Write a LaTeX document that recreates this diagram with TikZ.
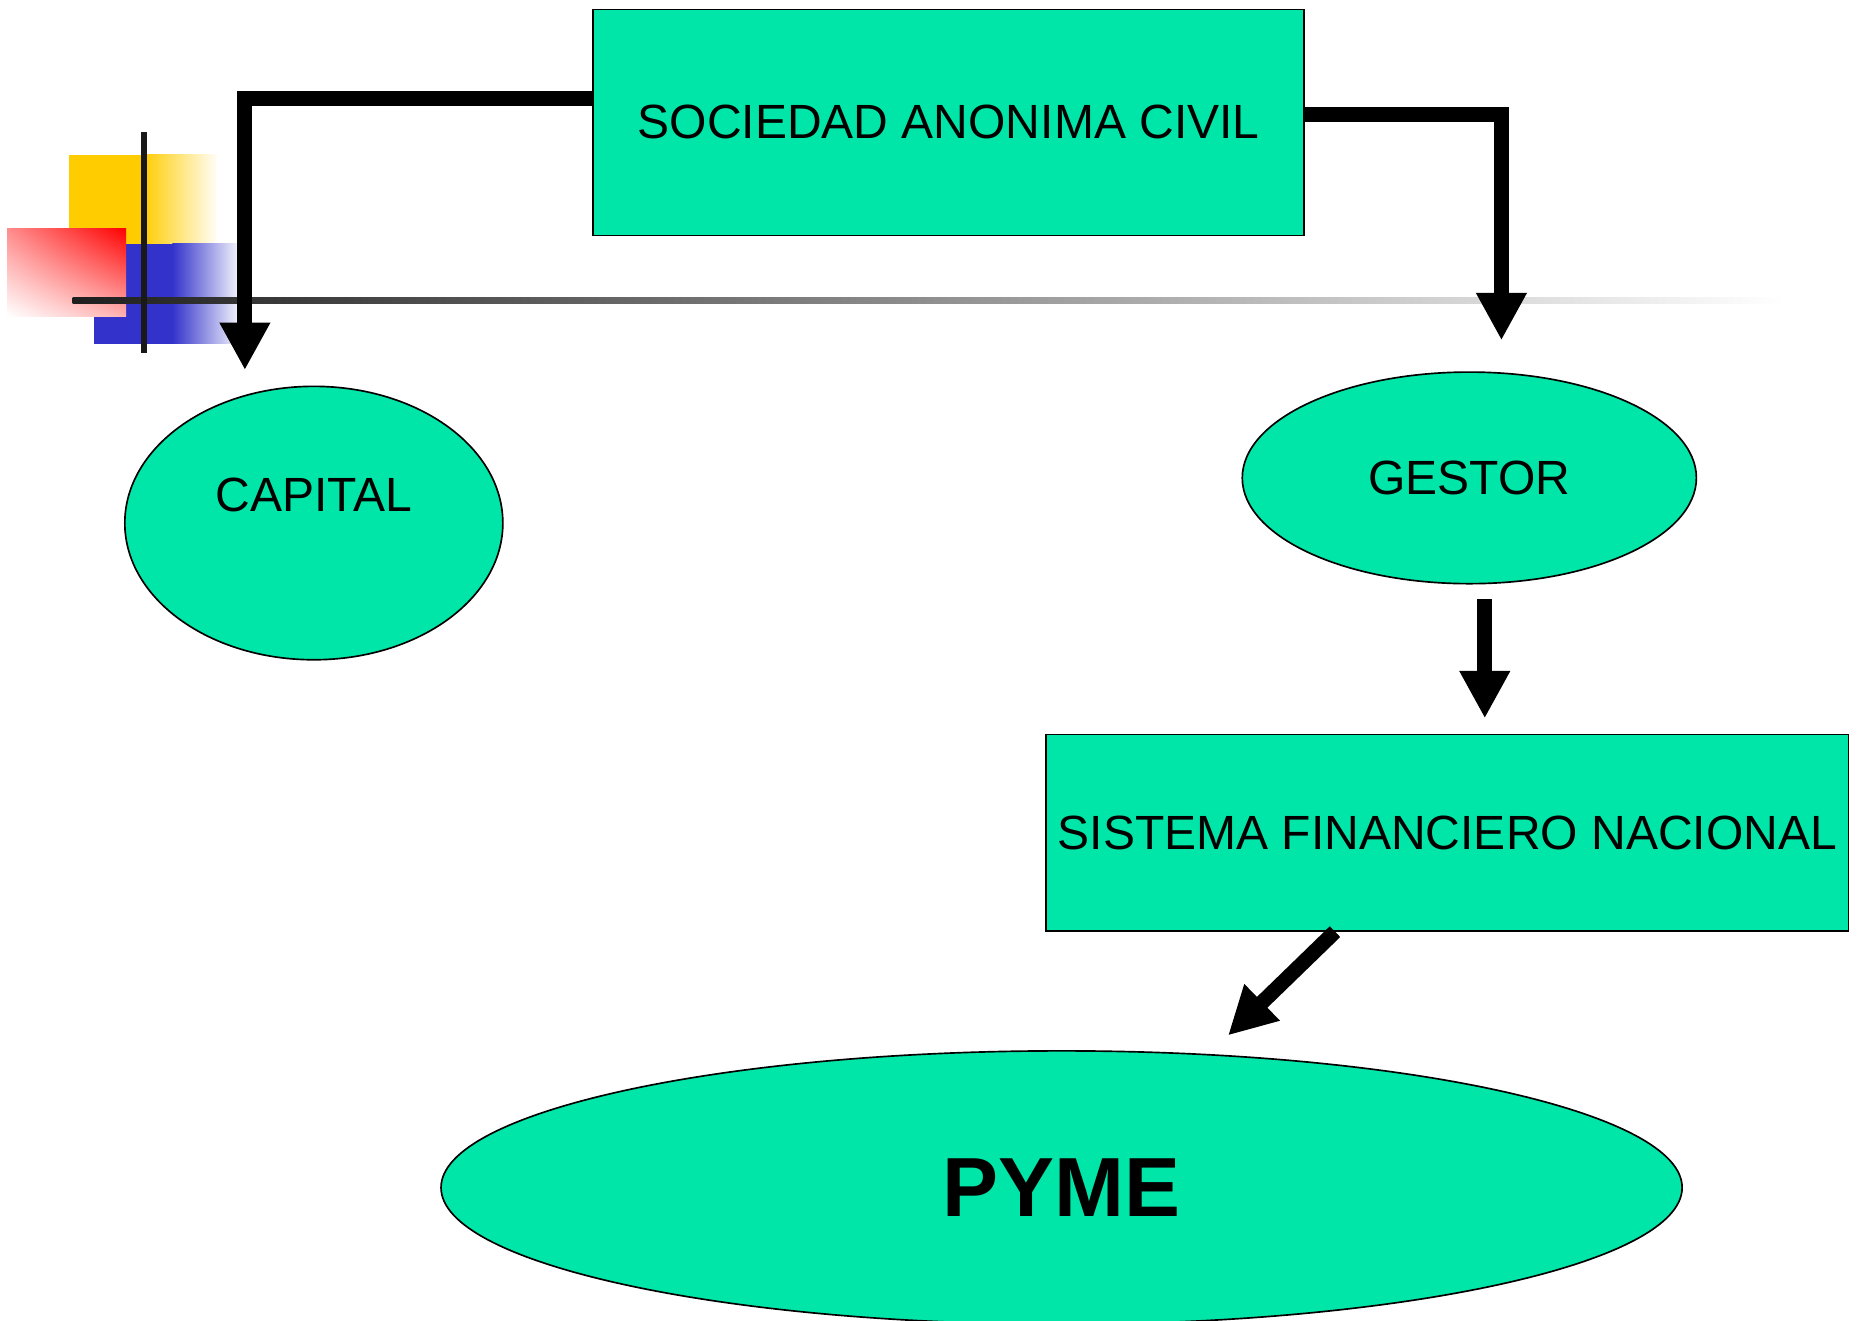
\documentclass[tikz,border=0pt]{standalone}
\usepackage{fontspec}
\setmainfont{Liberation Sans}
\usepackage{xcolor}
\usetikzlibrary{arrows.meta,shapes.geometric,shadings,calc}
\definecolor{mint}{RGB}{0,230,168}
\definecolor{sunyellow}{RGB}{255,204,0}
\definecolor{deepblue}{RGB}{51,51,204}
\tikzset{
	boxnode/.style={draw=black, line width=0.7pt, fill=mint, rectangle, inner sep=0pt},
	ovalnode/.style={draw=black, line width=0.7pt, fill=mint, ellipse, inner sep=0pt},
	flow/.style={line width=6.3pt, draw=black, line join=miter,
			-{Triangle[length=20pt,width=20pt]}},
	lbl/.style={font=\fontsize{20.2}{24}\selectfont}
}

\begin{document}
\begin{tikzpicture}[x=0.5pt, y=-0.5pt]
	\useasboundingbox (0,0) rectangle (1568,1111.2);

	% corner ornament
	\fill[sunyellow] (58,130) rectangle (121,205);
	\shade[left color=sunyellow, right color=white] (120,130) rectangle (184,205);
	\fill[deepblue] (79,205) rectangle (146,289);
	\shade[left color=deepblue, right color=white] (145,205) rectangle (204,289);
	\shade[upper left=red!45, upper right=red, lower left=white, lower right=red!30]
		(6,192) rectangle (106,266);
	\shade[left color=black!88, right color=white] (61,250.5) rectangle (1500,255.5);
	\fill[black!90] (118.5,111) rectangle (123.5,297);

	% nodes
	\node[boxnode, minimum width=299pt, minimum height=95pt] (sac) at (798,103)
		{\fontsize{20.2}{24}\selectfont SOCIEDAD ANONIMA CIVIL};
	\node[ovalnode, minimum width=159pt, minimum height=115pt,
		label={[lbl, yshift=12pt]center:CAPITAL}] (capital) at (264,440) {};
	\node[ovalnode, minimum width=191pt, minimum height=89pt] (gestor) at (1236,402)
		{\fontsize{20.2}{24}\selectfont GESTOR};
	\node[boxnode, minimum width=337.5pt, minimum height=82.5pt] (sfn) at (1217.5,700.5)
		{\fontsize{20.2}{24}\selectfont SISTEMA FINANCIERO NACIONAL};
	\node[ovalnode, minimum width=522pt, minimum height=115pt] (pyme) at (893,999)
		{\fontsize{35.3}{40}\selectfont\bfseries PYME};
	\coordinate (pymein) at (1033,871);

	% connectors
	\draw[flow, shorten >=6.5pt] (sac.west |- 0,83) -| (capital.north -| 206,0);
	\draw[flow, shorten >=13pt] (sac.east |- 0,96) -| (gestor.north -| 1263,0);
	\draw[flow, shorten <=6pt, shorten >=6.5pt] (gestor.south -| 1249,0) -- (sfn.north -| 1249,0);
	\draw[flow] (sfn.south -| 1123,0) -- (pymein);
\end{tikzpicture}
\end{document}
